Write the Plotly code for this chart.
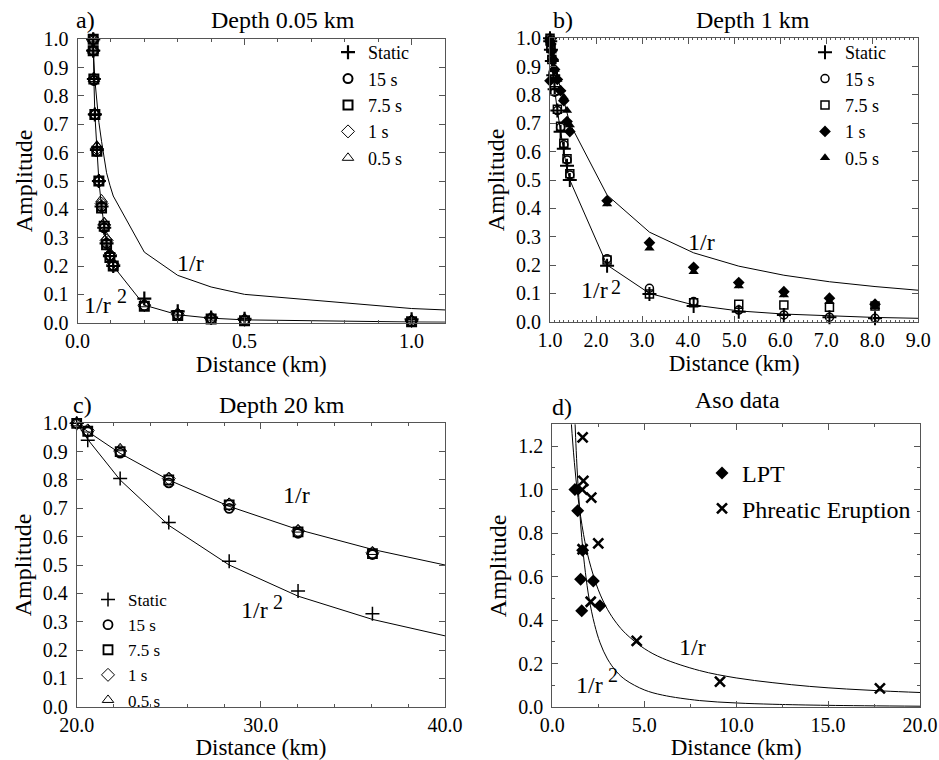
import plotly.graph_objects as go

# ---------------- Panel a: depth 0.05 km ----------------
a_dist = [0.047, 0.047, 0.049, 0.052, 0.058, 0.064, 0.072, 0.080, 0.087, 0.097, 0.107, 0.2, 0.3, 0.4, 0.5, 1.0]
a_static = [1.0, 0.96, 0.86, 0.735, 0.61, 0.50, 0.41, 0.335, 0.28, 0.235, 0.20, 0.085, 0.04, 0.018, 0.014, 0.012]
a_15s = [1.0, 0.96, 0.855, 0.735, 0.605, 0.50, 0.41, 0.335, 0.28, 0.235, 0.20, 0.06, 0.028, 0.015, 0.008, 0.004]
a_7_5s = [1.0, 0.96, 0.86, 0.735, 0.605, 0.50, 0.405, 0.34, 0.275, 0.23, 0.20, 0.058, 0.025, 0.013, 0.007, 0.003]
a_1s = [1.0, 0.96, 0.86, 0.735, 0.615, 0.50, 0.42, 0.345, 0.29, 0.24, 0.205, 0.062, 0.03, 0.016, 0.01, 0.006]
a_0_5s = [1.0, 0.96, 0.86, 0.74, 0.625, 0.505, 0.435, 0.355, 0.30, 0.245, 0.21, 0.065, 0.033, 0.018, 0.016, 0.012]
a_line_dist = [0.047, 0.047, 0.049, 0.052, 0.058, 0.064, 0.072, 0.080, 0.087, 0.097, 0.107, 0.2, 0.3, 0.4, 0.5, 1.0, 1.1]
a_inv_r = [1.0, 0.98, 0.927, 0.857, 0.781, 0.707, 0.64, 0.579, 0.529, 0.485, 0.447, 0.249, 0.167, 0.126, 0.10, 0.05, 0.045]
a_inv_r2 = [1.0, 0.96, 0.86, 0.735, 0.61, 0.50, 0.41, 0.335, 0.28, 0.235, 0.20, 0.062, 0.028, 0.016, 0.010, 0.0025, 0.002]

# ---------------- Panel b: depth 1 km ----------------
b_dist = [1.0, 1.005, 1.02, 1.04, 1.07, 1.10, 1.16, 1.23, 1.30, 1.37, 1.43, 2.24, 3.16, 4.12, 5.10, 6.08, 7.07, 8.06]
b_static = [1.0, 0.99, 0.96, 0.92, 0.87, 0.82, 0.745, 0.67, 0.61, 0.55, 0.50, 0.197, 0.098, 0.055, 0.035, 0.024, 0.016, 0.012]
b_15s = [1.0, 0.99, 0.965, 0.93, 0.875, 0.81, 0.745, 0.686, 0.624, 0.571, 0.518, 0.222, 0.118, 0.071, 0.041, 0.024, 0.016, 0.012]
b_7_5s = [1.0, 0.99, 0.965, 0.925, 0.87, 0.815, 0.75, 0.69, 0.63, 0.575, 0.522, 0.218, 0.098, 0.067, 0.062, 0.059, 0.051, 0.055]
b_1s = [0.85, 0.995, 0.98, 0.955, 0.925, 0.89, 0.855, 0.815, 0.78, 0.706, 0.671, 0.427, 0.279, 0.192, 0.138, 0.106, 0.083, 0.062]
b_0_5s = [1.0, 0.995, 0.98, 0.955, 0.925, 0.89, 0.855, 0.82, 0.792, 0.745, 0.694, 0.415, 0.259, 0.176, 0.126, 0.094, 0.071, 0.053]
b_line_dist = [1.0, 1.005, 1.02, 1.04, 1.07, 1.10, 1.16, 1.23, 1.30, 1.37, 1.43, 2.24, 3.16, 4.12, 5.10, 6.08, 7.07, 8.06, 9.0]
b_inv_r = [1.0, 0.995, 0.98, 0.96, 0.935, 0.905, 0.865, 0.82, 0.775, 0.735, 0.70, 0.447, 0.316, 0.243, 0.196, 0.164, 0.141, 0.124, 0.111]
b_inv_r2 = [1.0, 0.99, 0.96, 0.92, 0.87, 0.82, 0.745, 0.67, 0.60, 0.54, 0.50, 0.20, 0.10, 0.059, 0.038, 0.027, 0.02, 0.015, 0.012]

# ---------------- Panel c: depth 20 km ----------------
c_dist = [20.0, 20.6, 22.36, 25.0, 28.28, 32.02, 36.06]
c_static = [1.0, 0.94, 0.805, 0.65, 0.513, 0.408, 0.328]
c_15s = [1.0, 0.97, 0.895, 0.79, 0.70, 0.612, 0.537]
c_7_5s = [1.0, 0.972, 0.90, 0.80, 0.712, 0.617, 0.540]
c_1s = [1.0, 0.975, 0.902, 0.805, 0.714, 0.62, 0.543]
c_0_5s = [1.0, 0.978, 0.912, 0.808, 0.718, 0.625, 0.546]
c_line_dist = [20.0, 20.6, 22.36, 25.0, 28.28, 32.02, 36.06, 40.0]
c_inv_r = [1.0, 0.971, 0.894, 0.80, 0.707, 0.625, 0.555, 0.50]
c_inv_r2 = [1.0, 0.943, 0.80, 0.64, 0.50, 0.39, 0.308, 0.25]

# ---------------- Panel d: Aso data ----------------
lpt_dist = [1.23, 1.38, 1.54, 1.60, 1.65, 2.23, 2.59]
lpt_amp = [1.0, 0.903, 0.588, 0.444, 0.722, 0.58, 0.467]
phr_dist = [1.65, 1.69, 1.63, 2.12, 2.50, 1.65, 2.09, 4.59, 9.12, 17.82]
phr_amp = [1.24, 1.04, 1.0, 0.963, 0.753, 0.726, 0.485, 0.305, 0.118, 0.087]
d_inv_r_dist = [0.95, 1.04, 1.2, 1.4, 1.7, 2.0, 2.5, 3.0, 3.5, 4.0, 5.0, 6.0, 8.0, 10.0, 12.0, 14.0, 16.0, 18.0, 20.0]
d_inv_r = [1.42, 1.30, 1.125, 0.964, 0.794, 0.675, 0.54, 0.45, 0.386, 0.338, 0.27, 0.225, 0.169, 0.135, 0.113, 0.096, 0.084, 0.075, 0.068]
d_inv_r2_dist = [1.17, 1.24, 1.3, 1.4, 1.6, 1.8, 2.0, 2.3, 2.6, 3.0, 3.5, 4.0, 5.0, 6.0, 8.0, 10.0, 12.0, 15.0, 20.0]
d_inv_r2 = [1.46, 1.30, 1.18, 1.02, 0.78, 0.62, 0.50, 0.38, 0.296, 0.222, 0.163, 0.125, 0.08, 0.056, 0.031, 0.02, 0.014, 0.009, 0.005]

FONT = "Liberation Serif, Times New Roman, serif"
BLACK = "black"
AX = "#555555"
TICK_SIZE = 20
AXTITLE_SIZE = 23
TITLE_SIZE = 24
CURVE_LBL = 24
SUP_LBL = 20
LEG_SIZE = 18

fig = go.Figure()


def add_lines(xs1, ys1, xs2, ys2, xa, ya, shape="linear"):
    for xs, ys in ((xs1, ys1), (xs2, ys2)):
        fig.add_trace(go.Scatter(x=xs, y=ys, mode="lines", xaxis=xa, yaxis=ya,
                                 line=dict(color=BLACK, width=1, shape=shape),
                                 showlegend=False, hoverinfo="skip"))


def add_pts(xs, ys, name, symbol, size, lw, xa, ya, legend):
    marker = dict(symbol=symbol, size=size, color=BLACK,
                  line=dict(color=BLACK, width=lw))
    fig.add_trace(go.Scatter(x=xs, y=ys, mode="markers", name=name, xaxis=xa, yaxis=ya,
                             marker=marker, legend=legend, cliponaxis=False,
                             legendgroup=name + legend))


# Panel a
add_lines(a_line_dist, a_inv_r, a_line_dist, a_inv_r2, "x", "y")
add_pts(a_dist, a_static, "Static", "cross-thin", 10, 2.2, "x", "y", "legend")
add_pts(a_dist, a_15s, "15 s", "circle-open", 9, 2, "x", "y", "legend")
add_pts(a_dist, a_7_5s, "7.5 s", "square-open", 9, 2, "x", "y", "legend")
add_pts(a_dist, a_1s, "1 s", "diamond-open", 10, 1, "x", "y", "legend")
add_pts(a_dist, a_0_5s, "0.5 s", "triangle-up-open", 10, 1, "x", "y", "legend")

# Panel b
add_lines(b_line_dist, b_inv_r, b_line_dist, b_inv_r2, "x2", "y2")
add_pts(b_dist, b_static, "Static", "cross-thin", 10, 2, "x2", "y2", "legend2")
add_pts(b_dist, b_15s, "15 s", "circle-open", 8, 1.5, "x2", "y2", "legend2")
add_pts(b_dist, b_7_5s, "7.5 s", "square-open", 8, 1.5, "x2", "y2", "legend2")
add_pts(b_dist, b_1s, "1 s", "diamond", 9, 0, "x2", "y2", "legend2")
add_pts(b_dist, b_0_5s, "0.5 s", "triangle-up", 9, 0, "x2", "y2", "legend2")

# Panel c
add_lines(c_line_dist, c_inv_r, c_line_dist, c_inv_r2, "x3", "y3")
add_pts(c_dist, c_static, "Static", "cross-thin", 10, 1.5, "x3", "y3", "legend3")
add_pts(c_dist, c_15s, "15 s", "circle-open", 9, 1.8, "x3", "y3", "legend3")
add_pts(c_dist, c_7_5s, "7.5 s", "square-open", 9, 1.8, "x3", "y3", "legend3")
add_pts(c_dist, c_1s, "1 s", "diamond-open", 10, 1, "x3", "y3", "legend3")
add_pts(c_dist, c_0_5s, "0.5 s", "triangle-up-open", 10, 1, "x3", "y3", "legend3")

# Panel d
add_lines(d_inv_r_dist, d_inv_r, d_inv_r2_dist, d_inv_r2, "x4", "y4", shape="spline")
add_pts(lpt_dist, lpt_amp, "LPT", "diamond", 10, 0, "x4", "y4", "legend4")
add_pts(phr_dist, phr_amp, "Phreatic Eruption", "x-thin", 10, 2.6, "x4", "y4", "legend4")

W, H = 939, 760


def px_dom_x(a, b):
    return [a / W, b / W]


def px_dom_y(top, bottom):
    return [1 - bottom / H, 1 - top / H]


def xaxis_cfg(dom, rng, tickvals, minor_dtick, anchor, minor_len=3):
    return dict(domain=dom, range=rng, anchor=anchor, tickvals=tickvals,
                ticktext=["%.1f" % v for v in tickvals], automargin=False,
                ticks="inside", ticklen=6, tickcolor=AX, mirror="allticks",
                showline=True, linecolor=AX, linewidth=1, showgrid=False, zeroline=False,
                minor=dict(dtick=minor_dtick, ticks="inside", ticklen=minor_len, tickcolor=AX),
                tickfont=dict(family=FONT, size=TICK_SIZE, color=BLACK),
                title=dict(text="Distance (km)", font=dict(family=FONT, size=AXTITLE_SIZE, color=BLACK), standoff=4))


def yaxis_cfg(dom, rng, tickvals, minor_dtick, anchor):
    return dict(domain=dom, range=rng, anchor=anchor, tickvals=tickvals,
                ticktext=["%.1f" % v for v in tickvals], automargin=False,
                ticks="inside", ticklen=6, tickcolor=AX, mirror="allticks",
                showline=True, linecolor=AX, linewidth=1, showgrid=False, zeroline=False,
                ticklabelstandoff=4,
                minor=dict(dtick=minor_dtick, ticks="inside", ticklen=3, tickcolor=AX) if minor_dtick else None,
                tickfont=dict(family=FONT, size=TICK_SIZE, color=BLACK),
                title=dict(text="Amplitude", font=dict(family=FONT, size=24, color=BLACK), standoff=4))


yt10 = [i / 10 for i in range(11)]

fig.update_layout(
    width=W, height=H, margin=dict(l=0, r=0, t=0, b=0, autoexpand=False),
    paper_bgcolor="white", plot_bgcolor="white",
    font=dict(family=FONT, color=BLACK),
    xaxis=xaxis_cfg(px_dom_x(77.5, 445), [0, 1.1], [0.0, 0.5, 1.0], 0.1, "y"),
    yaxis=yaxis_cfg(px_dom_y(39.3, 322.7), [0, 1.0], yt10, None, "x"),
    xaxis2=xaxis_cfg(px_dom_x(550, 918.3), [1.0, 9.0], [1, 2, 3, 4, 5, 6, 7, 8, 9], 0.1, "y2", minor_len=2),
    yaxis2=yaxis_cfg(px_dom_y(38.3, 321.7), [0, 1.0], yt10, None, "x2"),
    xaxis3=xaxis_cfg(px_dom_x(76.7, 445), [20, 40], [20.0, 30.0, 40.0], 2, "y3"),
    yaxis3=yaxis_cfg(px_dom_y(423.3, 706.7), [0, 1.0], yt10, None, "x3"),
    xaxis4=xaxis_cfg(px_dom_x(552.3, 920), [0, 20], [0.0, 5.0, 10.0, 15.0, 20.0], 2.5, "y4"),
    yaxis4=yaxis_cfg(px_dom_y(424.3, 707.3), [0, 1.3], [0.0, 0.2, 0.4, 0.6, 0.8, 1.0, 1.2], 0.1, "x4"),
)

leg_common = dict(bgcolor="rgba(0,0,0,0)", borderwidth=0, itemwidth=30,
                  yanchor="top", xanchor="left", tracegroupgap=0)
fig.update_layout(
    legend=dict(x=328 / W, y=1 - 34 / H, font=dict(family=FONT, size=LEG_SIZE, color=BLACK), **leg_common),
    legend2=dict(x=805 / W, y=1 - 34 / H, font=dict(family=FONT, size=LEG_SIZE, color=BLACK), **leg_common),
    legend3=dict(x=88 / W, y=1 - 582 / H, font=dict(family=FONT, size=17, color=BLACK), **leg_common),
)
fig.update_layout(legend4=dict(x=702 / W, y=1 - 451 / H, font=dict(family=FONT, size=24, color=BLACK),
                               bgcolor="rgba(0,0,0,0)", borderwidth=0, itemwidth=30,
                               yanchor="top", xanchor="left", tracegroupgap=1))

ann = []


def txt(x, y, s, size, xref="paper", yref="paper", xanchor="center"):
    ann.append(dict(x=x, y=y, text=s, xref=xref, yref=yref, showarrow=False,
                    xanchor=xanchor, yanchor="middle",
                    font=dict(family=FONT, size=size, color=BLACK)))


# Panel titles
txt(85 / W, 1 - 20 / H, "a)", TITLE_SIZE)
txt(283 / W, 1 - 20 / H, "Depth 0.05 km", TITLE_SIZE)
txt(563 / W, 1 - 20 / H, "b)", TITLE_SIZE)
txt(753 / W, 1 - 20 / H, "Depth 1 km", TITLE_SIZE)
txt(82 / W, 1 - 405 / H, "c)", TITLE_SIZE)
txt(282 / W, 1 - 405 / H, "Depth 20 km", TITLE_SIZE)
txt(562 / W, 1 - 407 / H, "d)", TITLE_SIZE)
txt(737 / W, 1 - 400 / H, "Aso data", TITLE_SIZE)

# Curve labels (data coordinates)
txt(0.337, 0.21, "1/r", CURVE_LBL, "x", "y")
txt(0.061, 0.063, "1/r", CURVE_LBL, "x", "y")
txt(0.133, 0.094, "2", SUP_LBL, "x", "y")
txt(4.30, 0.282, "1/r", CURVE_LBL, "x2", "y2")
txt(1.96, 0.112, "1/r", CURVE_LBL, "x2", "y2")
txt(2.44, 0.122, "2", SUP_LBL, "x2", "y2")
txt(31.96, 0.747, "1/r", CURVE_LBL, "x3", "y3")
txt(29.68, 0.341, "1/r", CURVE_LBL, "x3", "y3")
txt(30.93, 0.37, "2", SUP_LBL, "x3", "y3")
txt(7.65, 0.277, "1/r", CURVE_LBL, "x4", "y4")
txt(2.05, 0.102, "1/r", CURVE_LBL, "x4", "y4")
txt(3.30, 0.148, "2", SUP_LBL, "x4", "y4")

fig.update_layout(annotations=ann)

fig.write_html("out.html")
